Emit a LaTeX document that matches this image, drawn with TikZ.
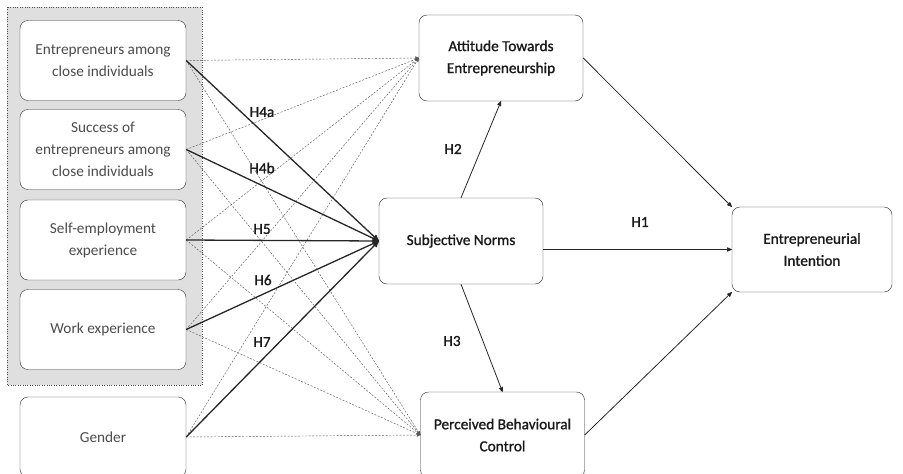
\documentclass[tikz,border=0pt]{standalone}
\usepackage{fontspec}
\setmainfont{Carlito}
\newfontfamily\heavier[FakeBold=1.1]{Carlito}
\usetikzlibrary{arrows}

\begin{document}
\begin{tikzpicture}[x=1pt,y=-1pt,>=stealth',
	factor/.style={shape=rectangle,draw=black!80,fill=white,rounded corners=8pt,minimum width=166pt,minimum height=80pt,align=center,text=black!70,font=\fontsize{15.3}{22}\selectfont},
	construct/.style={shape=rectangle,draw=black!85,fill=white,rounded corners=8pt,minimum width=164pt,minimum height=86pt,align=center,text=black!90,font=\heavier\fontsize{15.3}{22}\selectfont},
	hyp/.style={font=\heavier\fontsize{15.3}{18}\selectfont,text=black!90},
	effect/.style={->,line width=1.3pt,black!85},
	link/.style={->,line width=0.8pt,black!85},
	control/.style={->,dash pattern=on 2pt off 1.5pt,line width=0.45pt,black!65}]
	\useasboundingbox (0,0) rectangle (903,474);
	\clip (0,0) rectangle (903,474);
	% background block of the personal factors
	\draw[dotted,fill=gray!25,draw=black!70] (7,7) rectangle (202,385);

	\node (close) [factor] at (103,60.5) {Entrepreneurs among\\close individuals};
	\node (success) [factor] at (103,149.5) {Success of\\entrepreneurs among\\close individuals};
	\node (selfemp) [factor] at (103,240) {Self-employment\\experience};
	\node (work) [factor] at (103,329.5) {Work experience};
	\node (gender) [factor] at (103,437) {Gender};

	\node (attitude) [construct] at (501,58) {Attitude Towards\\Entrepreneurship};
	\node (norms) [construct] at (461,241) {Subjective Norms};
	\node (control) [construct] at (502.5,435) {Perceived Behavioural\\Control};
	\node (intention) [construct,minimum width=160pt,minimum height=85pt] at (812,249.5) {Entrepreneurial\\Intention};

	% dashed control paths
	\foreach \f in {close,success,selfemp,work,gender}{
		\path[control] (\f.east) edge (attitude.west);
		\path[control] (\f.east) edge (control.west);
	}

	\path[effect] (close.east) edge (norms.west);
	\path[effect] (success.east) edge (norms.west);
	\path[effect] (selfemp.east) edge (norms.west);
	\path[effect] (work.east) edge (norms.west);
	\path[effect] (gender.east) edge (norms.west);

	\node (h4a) [hyp] at (262,112) {H4a};
	\node (h4b) [hyp] at (262,168) {H4b};
	\node (h5) [hyp] at (262,229) {H5};
	\node (h6) [hyp] at (263,280) {H6};
	\node (h7) [hyp] at (262,342) {H7};

	\path[link] (norms.north) edge (attitude.south);
	\path[link] (norms.south) edge (control.north);
	\path[link] (norms.east |- intention.west) edge (intention.west);
	\path[link] (attitude.east) edge (intention.north west);
	\path[link] (control.east) edge (intention.south west);

	\node (h2) [hyp] at (453,149) {H2};
	\node (h3) [hyp] at (452,341) {H3};
	\node (h1) [hyp] at (640,222) {H1};
\end{tikzpicture}
\end{document}
